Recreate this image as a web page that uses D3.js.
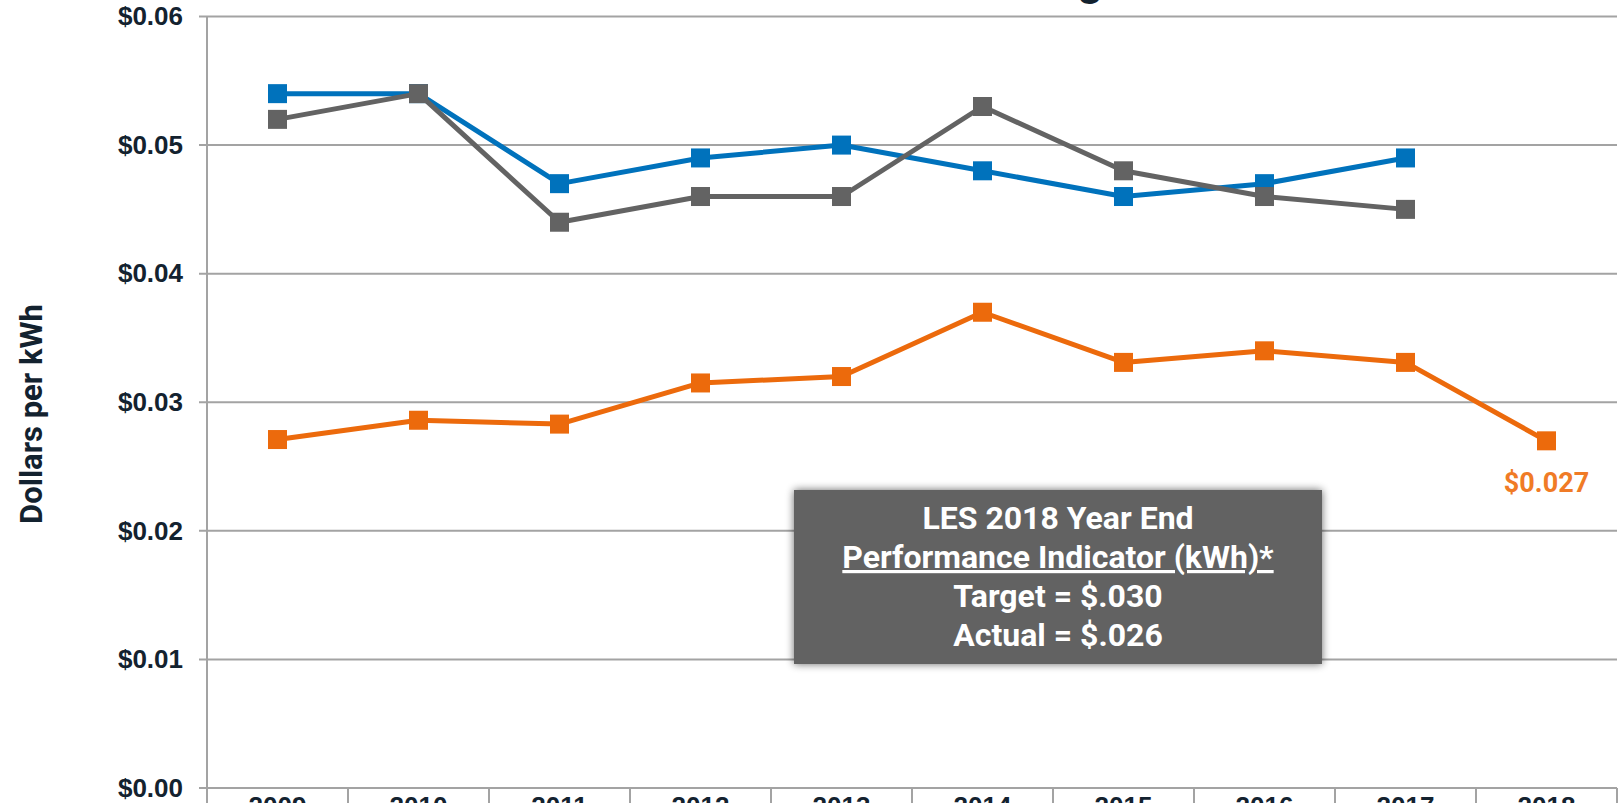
<!DOCTYPE html>
<html>
<head>
<meta charset="utf-8">
<script src="https://cdn.jsdelivr.net/npm/d3@7"></script>
<style>
  body { margin: 0; background: #fff; }
  svg { display: block; }
</style>
</head>
<body>
<div id="chart"></div>
<script>
const years = ['2009', '2010', '2011', '2012', '2013', '2014', '2015', '2016', '2017', '2018']
const blueVals = [0.054, 0.054, 0.047, 0.049, 0.050, 0.048, 0.046, 0.047, 0.049, null]
const grayVals = [0.052, 0.054, 0.044, 0.046, 0.046, 0.053, 0.048, 0.046, 0.045, null]
const lesVals = [0.0271, 0.0286, 0.0283, 0.0315, 0.0320, 0.0370, 0.0331, 0.0340, 0.0331, 0.0270]
const yTicks = [0, 0.01, 0.02, 0.03, 0.04, 0.05, 0.06]
const boxLines = ['LES 2018 Year End', 'Performance Indicator (kWh)*', 'Target = $.030', 'Actual = $.026']

const dms = {
  width: 1622,
  height: 803,
  left: 207,
  right: 1617,
  top: 16.5,
  bottom: 788
}

const svg = d3.select('#chart').append('svg')
  .attr('width', dms.width)
  .attr('height', dms.height)

const defs = svg.append('defs')
const shadow = defs.append('filter')
  .attr('id', 'shadow')
  .attr('x', '-10%').attr('y', '-20%')
  .attr('width', '120%').attr('height', '140%')
shadow.append('feGaussianBlur').attr('in', 'SourceAlpha').attr('stdDeviation', 4)
shadow.append('feOffset').attr('dx', 0).attr('dy', 0).attr('result', 'blur')
shadow.append('feComponentTransfer').append('feFuncA').attr('type', 'linear').attr('slope', 0.6)
const merge = shadow.append('feMerge')
merge.append('feMergeNode')
merge.append('feMergeNode').attr('in', 'SourceGraphic')

const x = d3.scaleBand()
  .domain(years)
  .range([dms.left, dms.right])

const y = d3.scaleLinear()
  .domain([0, 0.06])
  .range([dms.bottom, dms.top])

// title, mostly cut off above the frame
svg.append('text')
  .attr('x', 1103)
  .attr('y', -5)
  .attr('text-anchor', 'end')
  .style('font-family', 'Roboto')
  .style('font-weight', 700)
  .style('font-size', '44px')
  .style('fill', '#13222f')
  .text('Production Cost Benchmarking')

// gridlines
svg.append('g')
  .selectAll('line')
  .data(yTicks)
  .join('line')
  .attr('x1', dms.left - 8)
  .attr('x2', dms.right)
  .attr('y1', d => y(d))
  .attr('y2', d => y(d))
  .style('stroke', '#a3a3a3')
  .style('stroke-width', 2)

// y axis
const yAxis = svg.append('g')
  .attr('transform', `translate(${dms.left},0)`)
  .call(d3.axisLeft(y).tickValues(yTicks).tickSize(0).tickPadding(24)
    .tickFormat(d => '$' + d3.format('.2f')(d)))
yAxis.select('.domain').remove()
yAxis.selectAll('text')
  .style('font-family', 'Liberation Sans, Arial, sans-serif')
  .style('font-weight', 700)
  .style('font-size', '26px')
  .style('fill', '#13222f')

svg.append('line')
  .attr('x1', dms.left).attr('x2', dms.left)
  .attr('y1', dms.top).attr('y2', dms.height)
  .style('stroke', '#a3a3a3')
  .style('stroke-width', 2)

// category separators under the baseline
svg.append('g')
  .selectAll('line')
  .data(years)
  .join('line')
  .attr('x1', d => x(d) + x.bandwidth())
  .attr('x2', d => x(d) + x.bandwidth())
  .attr('y1', dms.bottom)
  .attr('y2', dms.height)
  .style('stroke', '#a3a3a3')
  .style('stroke-width', 2)

// x labels, mostly below the frame
svg.append('g')
  .selectAll('text')
  .data(years)
  .join('text')
  .attr('x', d => x(d) + x.bandwidth() / 2)
  .attr('y', 815)
  .attr('text-anchor', 'middle')
  .style('font-family', 'Liberation Sans, Arial, sans-serif')
  .style('font-weight', 700)
  .style('font-size', '26px')
  .style('fill', '#13222f')
  .text(d => d)

svg.append('text')
  .attr('transform', `translate(42,414) rotate(-90)`)
  .attr('text-anchor', 'middle')
  .style('font-family', 'Roboto')
  .style('font-weight', 700)
  .style('font-size', '31px')
  .style('fill', '#13222f')
  .text('Dollars per kWh')

const series = [
  { vals: blueVals, color: '#0072bc' },
  { vals: grayVals, color: '#636363' },
  { vals: lesVals, color: '#ec6a0c' }
]

const line = d3.line()
  .defined(d => d.v != null)
  .x(d => x(d.year) + x.bandwidth() / 2)
  .y(d => y(d.v))

const ms = 19
series.forEach(s => {
  const pts = years.map((yr, i) => ({ year: yr, v: s.vals[i] }))
  const g = svg.append('g')
  g.append('path')
    .datum(pts)
    .attr('d', line)
    .style('fill', 'none')
    .style('stroke', s.color)
    .style('stroke-width', 5)
    .style('stroke-linejoin', 'round')
  g.selectAll('rect')
    .data(pts.filter(d => d.v != null))
    .join('rect')
    .attr('x', d => x(d.year) + x.bandwidth() / 2 - ms / 2)
    .attr('y', d => y(d.v) - ms / 2)
    .attr('width', ms)
    .attr('height', ms)
    .style('fill', s.color)
})

// label on the last LES point
svg.append('text')
  .attr('x', x('2018') + x.bandwidth() / 2)
  .attr('y', y(lesVals[9]) + 51)
  .attr('text-anchor', 'middle')
  .style('font-family', 'Roboto')
  .style('font-weight', 700)
  .style('font-size', '27px')
  .style('fill', '#f07b26')
  .text('$' + d3.format('.3f')(lesVals[9]))

// annotation box
const box = { x: 794, y: 490, w: 528, h: 174 }
svg.append('rect')
  .attr('x', box.x).attr('y', box.y)
  .attr('width', box.w).attr('height', box.h)
  .style('fill', '#626262')
  .attr('filter', 'url(#shadow)')

svg.append('g')
  .selectAll('text')
  .data(boxLines)
  .join('text')
  .attr('x', box.x + box.w / 2)
  .attr('y', (d, i) => box.y + 39 + i * 39)
  .attr('text-anchor', 'middle')
  .style('font-family', 'Roboto')
  .style('font-weight', 700)
  .style('font-size', '32px')
  .style('fill', '#ffffff')
  .style('text-decoration', (d, i) => i === 1 ? 'underline' : null)
  .text(d => d)
</script>
</body>
</html>
